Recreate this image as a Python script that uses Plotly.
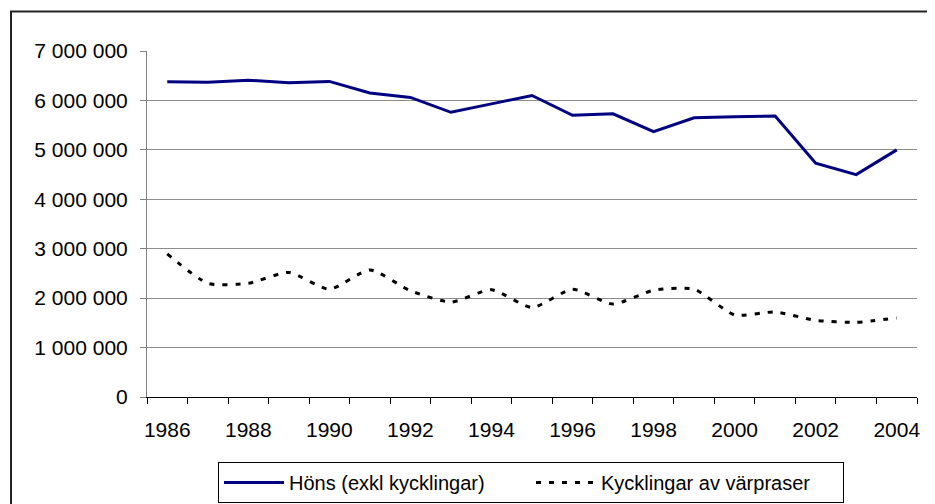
import plotly.graph_objects as go

years = list(range(1986, 2005))
hons = [6376000, 6370000, 6410000, 6360000, 6385000, 6150000, 6060000, 5760000,
        5930000, 6100000, 5700000, 5730000, 5370000, 5650000, 5670000, 5685000,
        4730000, 4500000, 5000000]
kycklingar = [2895000, 2300000, 2300000, 2520000, 2180000, 2570000, 2150000, 1920000,
              2170000, 1810000, 2180000, 1880000, 2160000, 2180000, 1660000, 1720000,
              1550000, 1510000, 1600000]
series_names = ["Höns (exkl kycklingar)", "Kycklingar av värpraser"]
x_labels = years[::2]
y_ticks = list(range(0, 7000001, 1000000))

FONT = "Liberation Sans, Arial, sans-serif"

fig = go.Figure()
fig.add_trace(go.Scatter(x=years, y=hons, mode="lines", name=series_names[0],
                         line=dict(color="#000080", width=3)))
fig.add_trace(go.Scatter(x=years, y=kycklingar, mode="lines", name=series_names[1],
                         line=dict(color="#000000", width=3, dash="5px,8px", shape="spline", smoothing=0.6)))

# page body has an 8px margin, so the figure is 8px smaller and offsets are shifted by 8
fig.update_layout(
    width=927, height=496,
    margin=dict(l=139, r=18, t=43, b=107, autoexpand=False),
    paper_bgcolor="white", plot_bgcolor="white",
    separators=". ",
    font=dict(family=FONT, size=21, color="black"),
    showlegend=True,
    legend=dict(orientation="h", x=0.4987, xanchor="center", y=-0.306, yanchor="bottom",
                bordercolor="black", borderwidth=1, bgcolor="white",
                font=dict(family=FONT, size=20, color="black"),
                itemwidth=60, entrywidth=237, tracegroupgap=0),
    xaxis=dict(range=[1985.5, 2004.5], tickmode="array", tickvals=x_labels,
               ticktext=[str(v) for v in x_labels], ticks="", showgrid=False,
               zeroline=False, showline=True, linecolor="black", linewidth=1,
               ticklabelstandoff=14, automargin=False,
               minor=dict(tickmode="array", tickvals=[y - 0.5 for y in years + [2005]],
                          ticks="outside", ticklen=6, tickcolor="black", tickwidth=1,
                          showgrid=False)),
    yaxis=dict(range=[0, 7000000], tickmode="array", tickvals=y_ticks, tickformat=",d",
               ticks="outside", ticklen=6, tickcolor="#808080", tickwidth=1,
               showgrid=False, zeroline=False, showline=True, linecolor="#808080",
               linewidth=1, ticklabelstandoff=8, automargin=False,
               minor=dict(tickmode="array", tickvals=y_ticks[1:-1], ticks="",
                          showgrid=True, gridcolor="#8c8c8c", gridwidth=1)),
)

# outer chart border (only top and left edges visible in the reference)
fig.add_shape(type="rect", xref="paper", yref="paper",
              x0=-0.1766, x1=1.2, y0=-0.6, y1=1.114,
              line=dict(color="#222222", width=2), fillcolor="rgba(0,0,0,0)", layer="below")

fig.write_html("out.html")
